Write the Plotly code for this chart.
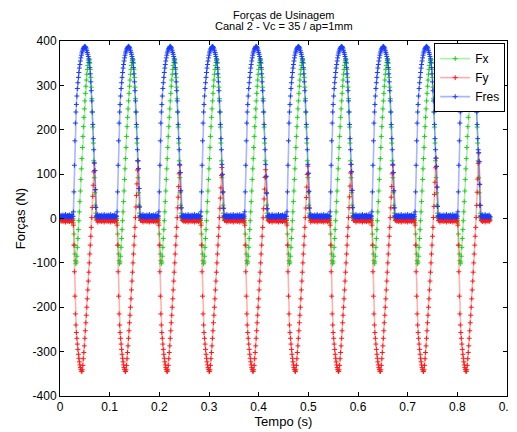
import plotly.graph_objects as go

# ---- data (values in N, time in s) ----
# start time (s) of each machining cycle
CYCLE_STARTS = [0.000, 0.088, 0.172, 0.257, 0.345, 0.430, 0.517, 0.601, 0.688, 0.774]
END_TIME = 0.866
DT = 0.001
ACTIVE_OFFSET_MS = 26  # first sample of the cutting phase inside a cycle

# one cutting phase, sampled every 1 ms (26 ms .. 74 ms after cycle start)
FX_ACTIVE = [0, -10, -35, -60, -80, -95, -102, -98, -85, -65, -45, -25, -5, 15,
             38, 62, 88, 112, 135, 160, 185, 207, 228, 247, 265, 282, 298, 312,
             325, 336, 345, 352, 356, 358, 350, 336, 318, 296, 270, 240, 206,
             170, 130, 92, 58, 30, 12, 3, 0]
FY_ACTIVE = [-4, -15, -60, -120, -175, -215, -240, -257, -270, -283, -295, -306,
             -315, -323, -330, -336, -340, -344, -345, -341, -331, -316, -302,
             -287, -270, -253, -235, -218, -200, -181, -161, -141, -121, -100,
             -80, -60, -40, -20, 2, 25, 50, 75, 105, 125, 108, 65, 25, 3, -4]
FRES_ACTIVE = [5, 10, 25, 65, 128, 182, 226, 256, 276, 293, 306, 318, 329, 339,
               347, 355, 362, 368, 373, 377, 380, 383, 385, 387, 388, 387, 385,
               382, 378, 374, 370, 365, 360, 352, 340, 326, 308, 288, 265, 240,
               212, 180, 155, 122, 74, 38, 14, 6, 5]
# positive Fy peak of each cycle
FY_PEAK = [125, 130, 120, 115, 110, 118, 122, 120, 136, 148]
FY_PEAK_REF = 125

# small values between cuts
FX_FLAT = [0, -1, 1, 0, -2, 1, 0, -1, 2, 0, -1, 1, 0]
FY_FLAT = [-4, -2, -6, -3, -5, -1, -7, -4, -3, -5, -2, -8, -4]
FRES_FLAT = [5, 3, 7, 4, 6, 2, 8, 5, 4, 6, 3, 9, 5]

SERIES_NAMES = ["Fx", "Fy", "Fres"]
TITLE_LINES = ["Forças de Usinagem", "Canal 2 - Vc = 35 / ap=1mm"]
X_TICKS = [0, 0.1, 0.2, 0.3, 0.4, 0.5, 0.6, 0.7, 0.8, 0.9]
X_TICK_LABELS = ["0", "0.1", "0.2", "0.3", "0.4", "0.5", "0.6", "0.7", "0.8", "0.9"]
Y_TICKS = [-400, -300, -200, -100, 0, 100, 200, 300, 400]
Y_TICK_LABELS = ["-400", "-300", "-200", "-100", "0", "100", "200", "300", "400"]

# ---- assemble the sampled signals ----
start_ms = [round(s * 1000) for s in CYCLE_STARTS]
n_total = round(END_TIME * 1000) + 1
t, fx, fy, fres = [], [], [], []
for n in range(n_total):
    k = max(i for i, s in enumerate(start_ms) if s <= n)
    j = n - start_ms[k] - ACTIVE_OFFSET_MS
    t.append(n * DT)
    if 0 <= j < len(FX_ACTIVE):
        fx.append(FX_ACTIVE[j])
        v = FY_ACTIVE[j]
        if v > 0 and j > 20:
            v = v * FY_PEAK[k] / FY_PEAK_REF
        fy.append(v)
        fres.append(max(FRES_ACTIVE[j], abs(v)))
    else:
        fx.append(FX_FLAT[n % len(FX_FLAT)])
        fy.append(FY_FLAT[n % len(FY_FLAT)])
        fres.append(FRES_FLAT[n % len(FRES_FLAT)])

styles = [
    ("rgba(60,210,60,0.40)", "#22cc22"),
    ("rgba(255,60,60,0.40)", "#ff1a1a"),
    ("rgba(40,70,255,0.40)", "#1a3cff"),
]

fig = go.Figure()
for name, ys, (lc, mc) in zip(SERIES_NAMES, [fx, fy, fres], styles):
    fig.add_trace(go.Scatter(
        x=t, y=ys, name=name, mode="lines+markers",
        line=dict(color=lc, width=1.6),
        marker=dict(symbol="cross-thin", size=3.5, color=mc, line=dict(width=1, color=mc)),
    ))

FONT = "Liberation Sans, Arial, sans-serif"
axis_common = dict(
    showgrid=False, zeroline=False, showline=True, linecolor="black", linewidth=1,
    mirror="ticks", ticks="inside", ticklen=4, tickcolor="black", automargin=False,
    tickfont=dict(family=FONT, size=12, color="black"),
)
# the page body adds an 8 px offset, so the figure is 8 px smaller
fig.update_layout(
    width=509, height=424,
    margin=dict(l=52, r=10, t=33, b=36),
    paper_bgcolor="white", plot_bgcolor="white",
    font=dict(family=FONT, color="black"),
    xaxis=dict(range=[0, 0.9], tickvals=X_TICKS, ticktext=X_TICK_LABELS,
               title=dict(text="Tempo (s)", font=dict(size=13), standoff=2),
               **axis_common),
    yaxis=dict(range=[-400, 400], tickvals=Y_TICKS, ticktext=Y_TICK_LABELS,
               title=dict(text="Forças (N)", font=dict(size=13), standoff=4),
               **axis_common),
    legend=dict(x=0.996, xanchor="right", y=0.994, yanchor="top",
                bgcolor="white", bordercolor="black", borderwidth=1,
                font=dict(size=12), tracegroupgap=0, itemwidth=30),
    showlegend=True,
)
for line, ypos in zip(TITLE_LINES, [1.0732, 1.042]):
    fig.add_annotation(text=line, xref="paper", yref="paper", x=0.5, y=ypos,
                       xanchor="center", yanchor="middle", showarrow=False,
                       font=dict(size=11, family=FONT))
fig.write_html("out.html")
